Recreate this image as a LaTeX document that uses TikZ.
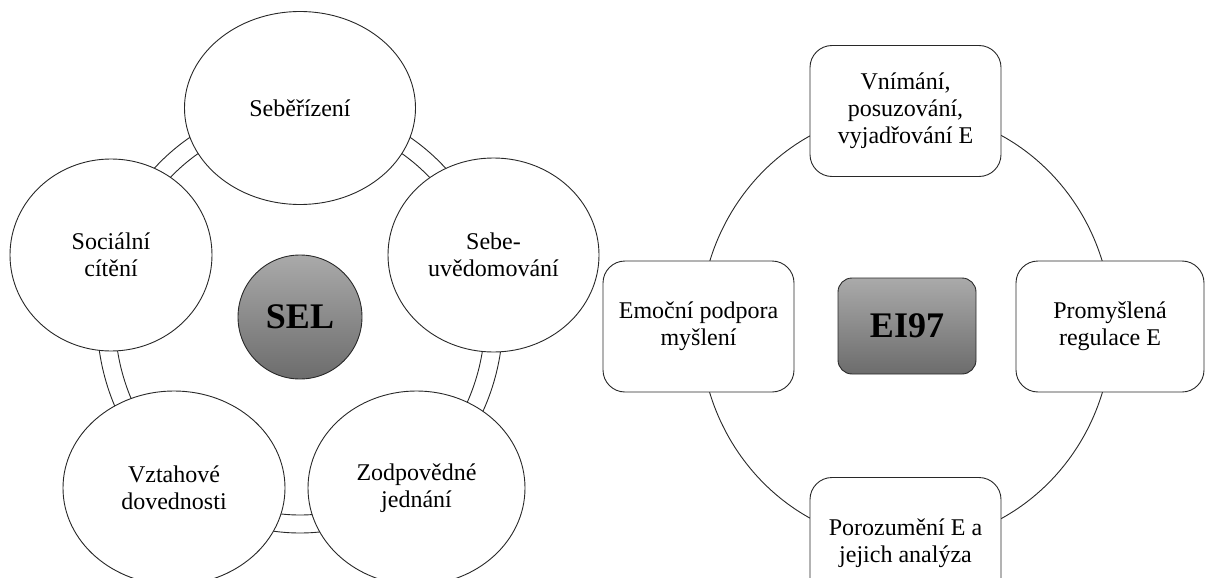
\documentclass[tikz,border=0pt]{standalone}
\usepackage{fontspec}
\setmainfont{Liberation Serif}
\usetikzlibrary{shapes.geometric}
\definecolor{gtop}{RGB}{170,170,170}
\definecolor{gbot}{RGB}{108,108,108}
\definecolor{lc}{RGB}{40,40,40}
\begin{document}
\begin{tikzpicture}[x=1pt,y=-1pt,
  lbl/.style={font=\fontsize{24}{27}\selectfont, align=center, text=black},
  oval/.style={ellipse, draw=lc, line width=0.9pt, fill=white, inner sep=0pt, lbl},
  rbox/.style={rectangle, rounded corners=22pt, draw=lc, line width=0.9pt, fill=white, minimum width=191pt, minimum height=131pt, inner sep=0pt, lbl},
  hub/.style={draw=lc, line width=0.9pt, top color=gtop, bottom color=gbot, font=\fontsize{36}{40}\selectfont\bfseries, inner sep=0pt}]
\useasboundingbox (0,0) rectangle (1205,578);
% left: ring
\path[draw=lc, line width=0.9pt, fill=white, even odd rule]
  (300,318) ellipse [x radius=203pt, y radius=215pt]
  (300,318) ellipse [x radius=185pt, y radius=197pt];
\node[oval, minimum width=231pt, minimum height=193pt] (seb) at (300,108) {Seběřízení};
\node[oval, minimum width=211pt, minimum height=194pt] (uve) at (493.5,255) {Sebe-\\uvědomování};
\node[oval, minimum width=217pt, minimum height=194pt] (zod) at (416.5,488) {Zodpovědné\\jednání};
\node[oval, minimum width=222pt, minimum height=194pt] (vzt) at (174,488) {Vztahové\\dovednosti};
\node[oval, minimum width=202pt, minimum height=192pt] (soc) at (111,255) {Sociální\\cítění};
\node[hub, circle, minimum size=124pt] (sel) at (300,317) {SEL};
% right: ring
\draw[lc, line width=0.9pt] (906,327) ellipse [x radius=206pt, y radius=216pt];
\node[rbox] (vni) at (905.5,111) {Vnímání,\\posuzování,\\vyjadřování E};
\node[rbox, minimum width=188pt] (pro) at (1110,326.5) {Promyšlená\\regulace E};
\node[rbox] (por) at (905.5,543) {Porozumění E a\\jejich analýza};
\node[rbox] (emo) at (698.5,326.5) {Emoční podpora\\myšlení};
\node[hub, rectangle, rounded corners=14pt, minimum width=138pt, minimum height=96pt] (ei) at (907,326) {EI97};
\end{tikzpicture}
\end{document}
